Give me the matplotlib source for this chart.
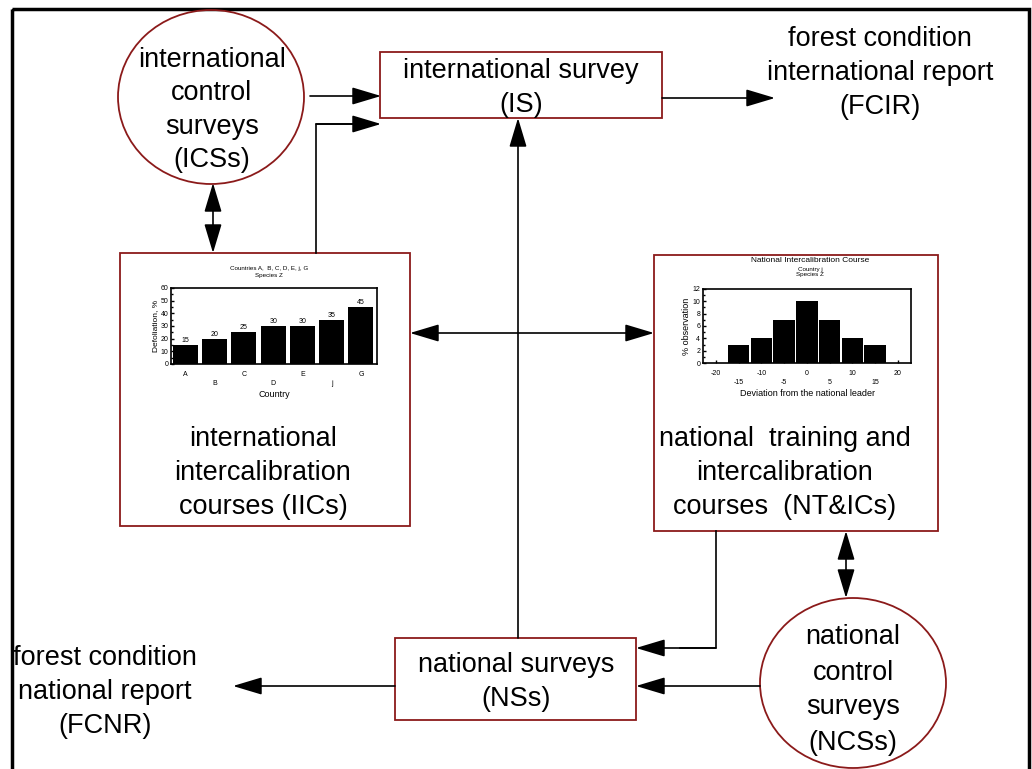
import matplotlib
matplotlib.use("Agg")
import matplotlib.pyplot as plt
from matplotlib.patches import Rectangle, Ellipse, FancyArrowPatch

plt.rcParams['font.family'] = ['Liberation Sans', 'DejaVu Sans']

# Datos de los gráficos insertados
paises = ['A', 'B', 'C', 'D', 'E', 'j', 'G']
defoliacion = [15, 20, 25, 30, 30, 35, 45]

desviaciones = [-15, -10, -5, 0, 5, 10, 15]
observaciones = [3, 4, 7, 10, 7, 4, 3]

# Textos del diagrama
txt_ics = "international\ncontrol\nsurveys\n(ICSs)"
txt_is = "international survey\n(IS)"
txt_fcir = "forest condition\ninternational report\n(FCIR)"
txt_iic = "international\nintercalibration\ncourses (IICs)"
txt_ntic = "national  training and\nintercalibration\ncourses  (NT&ICs)"
txt_ns = "national surveys\n(NSs)"
txt_ncs = "national\ncontrol\nsurveys\n(NCSs)"
txt_fcnr = "forest condition\nnational report\n(FCNR)"

W, H = 1032, 769
rojo = '#8b1a1a'

fig = plt.figure(figsize=(W / 100, H / 100), dpi=100)
ax = fig.add_axes([0, 0, 1, 1])
ax.set_xlim(0, W)
ax.set_ylim(H, 0)
ax.axis('off')

# Marco exterior
ax.add_patch(Rectangle((12, 9), 1017, 780, fill=False, ec='black', lw=2.5))


def caja(x0, y0, x1, y1):
    ax.add_patch(Rectangle((x0, y0), x1 - x0, y1 - y0, fill=False, ec=rojo, lw=1.3))


def elipse(cx, cy, rx, ry):
    ax.add_patch(Ellipse((cx, cy), 2 * rx, 2 * ry, fill=False, ec=rojo, lw=1.3))


def flecha(p0, p1, doble=False):
    estilo = '<|-|>' if doble else '-|>'
    ax.add_patch(FancyArrowPatch(p0, p1, arrowstyle=estilo + ',head_length=0.9,head_width=0.27',
                                 mutation_scale=20, color='black', lw=1.2,
                                 shrinkA=0, shrinkB=0))


def linea(xs, ys):
    ax.plot(xs, ys, color='black', lw=1.2)


def texto(x, y, s, fs=19.5, ls=1.38):
    ax.text(x, y, s, ha='center', va='center', fontsize=fs, linespacing=ls)


# Formas
elipse(211, 97, 93, 87)
caja(380, 52, 662, 118)
caja(120, 253, 410, 526)
caja(654, 255, 938, 531)
caja(395, 638, 636, 720)
elipse(853, 683, 93, 85)

# Textos
texto(212, 110, txt_ics)
texto(521, 88, txt_is)
texto(880, 73, txt_fcir)
texto(263, 473, txt_iic)
texto(785, 473, txt_ntic)
texto(516, 682, txt_ns)
texto(853, 690, txt_ncs, ls=1.45)
texto(105, 692, txt_fcnr)

# Flechas
flecha((310, 96), (381, 96))
linea([316, 316, 360], [253, 124, 124])
flecha((316, 124), (381, 124))
flecha((662, 98), (775, 98))
flecha((213, 183), (213, 253), doble=True)
flecha((410, 333), (654, 333), doble=True)
flecha((518, 638), (518, 118))
linea([716, 716, 680], [531, 648, 648])
flecha((716, 648), (636, 648))
flecha((846, 531), (846, 598), doble=True)
flecha((760, 686), (636, 686))
flecha((395, 686), (233, 686))


def px_ejes(x0, y0, x1, y1):
    return [x0 / W, 1 - y1 / H, (x1 - x0) / W, (y1 - y0) / H]


# Gráfico de barras: defoliación por país
ax1 = fig.add_axes(px_ejes(171, 288, 377, 364))
pos = list(range(len(paises)))
ax1.bar(pos, defoliacion, width=0.86, color='black')
for p, v in zip(pos, defoliacion):
    ax1.text(p, v + 0.8, str(v), ha='center', va='bottom', fontsize=5)
ax1.set_xlim(-0.49, 6.55)
ax1.set_ylim(0, 60)
ax1.set_yticks(range(0, 61, 10))
ax1.set_yticks(range(0, 61, 5), minor=True)
ax1.set_xticks(pos)
ax1.set_xticklabels([n if i % 2 == 0 else '\n' + n for i, n in enumerate(paises)],
                    linespacing=1.5)
ax1.tick_params(axis='both', labelsize=5, direction='in', length=2.5, width=1, pad=2)
ax1.tick_params(axis='y', which='minor', direction='in', length=1.5, width=1)
ax1.tick_params(axis='x', length=0, pad=5)
for s in ax1.spines.values():
    s.set_linewidth(1.2)
ax1.set_ylabel("Defoliation, %", fontsize=6, labelpad=1)
ax1.set_xlabel("Country", fontsize=6.5, labelpad=2)
fig.text(269 / W, 1 - 272 / H, "Countries A,  B, C, D, E, j, G\nSpecies Z",
         ha='center', va='center', fontsize=4.5, linespacing=1.3)

# Histograma: desviación del líder nacional
ax2 = fig.add_axes(px_ejes(703, 289, 911, 363))
ax2.bar(desviaciones, observaciones, width=4.7, color='black')
ax2.set_xlim(-22.85, 22.9)
ax2.set_ylim(0, 12)
ax2.set_yticks(range(0, 13, 2))
ax2.set_yticks(range(0, 13, 1), minor=True)
ticks_x = list(range(-20, 21, 5))
ax2.set_xticks(ticks_x)
ax2.set_xticklabels([str(t) if i % 2 == 0 else '\n' + str(t) for i, t in enumerate(ticks_x)],
                    linespacing=1.5)
ax2.tick_params(axis='both', labelsize=5, direction='in', length=2.5, width=1, pad=2)
ax2.tick_params(axis='y', which='minor', direction='in', length=1.5, width=1)
ax2.tick_params(axis='x', pad=5)
for s in ax2.spines.values():
    s.set_linewidth(1.2)
ax2.set_ylabel("% observation", fontsize=6.5, labelpad=1)
ax2.set_xlabel("Deviation from the national leader", fontsize=6.5, labelpad=2)
fig.text(810 / W, 1 - 261 / H, "National Intercalibration Course",
         ha='center', va='center', fontsize=6)
fig.text(810 / W, 1 - 272 / H, "Country j\nSpecies Z",
         ha='center', va='center', fontsize=4.5, linespacing=1.0)

fig.savefig("out.png", dpi=100)
